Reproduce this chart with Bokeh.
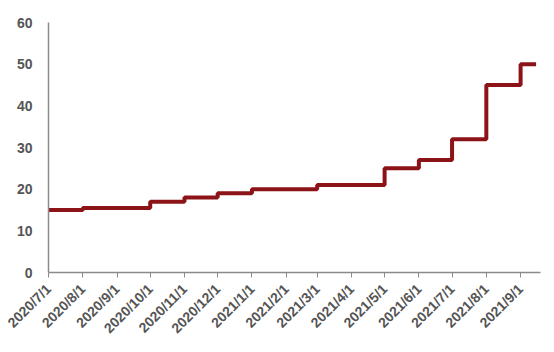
from datetime import datetime
from bokeh.plotting import figure
from bokeh.models import Range1d, FixedTicker
from bokeh.embed import file_html
from bokeh.resources import INLINE
import math

# step change dates and values
step_dates = ["2020/7/1", "2020/8/1", "2020/10/1", "2020/11/1", "2020/12/1",
              "2021/1/1", "2021/3/1", "2021/5/1", "2021/6/1", "2021/7/1",
              "2021/8/1", "2021/9/1", "2021/9/15"]
step_values = [15, 15.5, 17, 18, 19, 20, 21, 25, 27, 32, 45, 50, 50]

tick_labels = ["2020/7/1", "2020/8/1", "2020/9/1", "2020/10/1", "2020/11/1",
               "2020/12/1", "2021/1/1", "2021/2/1", "2021/3/1", "2021/4/1",
               "2021/5/1", "2021/6/1", "2021/7/1", "2021/8/1", "2021/9/1"]
y_ticks = [0, 10, 20, 30, 40, 50, 60]

def to_ms(s):
    return datetime.strptime(s, "%Y/%m/%d").timestamp() * 1000.0

xs = [to_ms(d) for d in step_dates]
tick_ms = [to_ms(t) for t in tick_labels]

p = figure(width=554, height=352, output_backend="svg", toolbar_location=None,
           x_axis_type="datetime",
           x_range=Range1d(to_ms("2020/7/1"), to_ms("2021/9/19")),
           y_range=Range1d(0, 60),
           min_border_left=48, min_border_right=14, min_border_top=22,
           min_border_bottom=80)
p.outline_line_color = None
p.background_fill_color = "white"
p.border_fill_color = "white"
p.xgrid.visible = False
p.ygrid.visible = False

p.step(xs, step_values, mode="after", line_color="#8c1418", line_width=4)

p.xaxis.ticker = FixedTicker(ticks=tick_ms)
p.xaxis.major_label_overrides = {t: l for t, l in zip(tick_ms, tick_labels)}
p.xaxis.major_label_orientation = math.pi / 4
p.xaxis.minor_tick_line_color = None
p.xaxis.major_tick_in = 0
p.xaxis.major_tick_out = 5
p.xaxis.axis_line_color = "#8a8a8a"
p.xaxis.major_tick_line_color = "#8a8a8a"
p.xaxis.axis_line_width = 1.5

p.yaxis.ticker = FixedTicker(ticks=y_ticks)
p.yaxis.minor_tick_line_color = None
p.yaxis.major_tick_line_color = None
p.yaxis.axis_line_color = "#8a8a8a"
p.yaxis.axis_line_width = 1.5

for ax in (p.xaxis, p.yaxis):
    ax.major_label_text_font = "Liberation Sans"
    ax.major_label_text_font_style = "bold"
    ax.major_label_text_font_size = "14px"
    ax.major_label_text_color = "#555555"
p.yaxis.major_label_standoff = 10
p.xaxis.major_label_standoff = 9

open("out.html", "w").write(file_html(p, INLINE))
